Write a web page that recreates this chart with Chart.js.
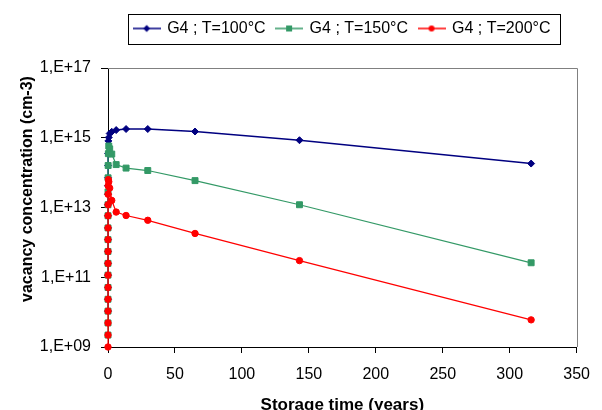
<!DOCTYPE html>
<html>
<head>
<meta charset="utf-8">
<script src="https://cdn.jsdelivr.net/npm/chart.js@4.4.0/dist/chart.umd.min.js"></script>
<style>
  html, body { margin: 0; padding: 0; background: #fff; }
  #wrap { width: 602px; height: 410px; }
</style>
</head>
<body>
<div id="wrap"><canvas id="vacChart" width="602" height="410"></canvas></div>
<script>
// storage time (years) of each computed point
const storageYears = [0.0000018, 0.000004, 0.0000088, 0.000019, 0.000042, 0.000093, 0.0002, 0.00045,
  0.001, 0.0022, 0.0048, 0.0105, 0.023, 0.051, 0.113, 0.26, 0.58, 1.27, 2.8, 6.1, 13.5, 29.7, 65, 143, 316];

// vacancy concentration (cm-3)
const vac100 = [1.07e10, 2.34e10, 5.1e10, 1.15e11, 2.5e11, 5.5e11, 1.2e12, 2.6e12, 5.8e12, 1.2e13, 2.4e13,
  4.2e13, 7.1e13, 1.6e14, 3.5e14, 8.1e14, 1.02e15, 1.32e15, 1.48e15, 1.66e15, 1.78e15, 1.78e15, 1.51e15, 8.5e14, 1.82e14];
const vac150 = [2.2e9, 4.9e9, 1.07e10, 2.34e10, 5.1e10, 1.15e11, 2.5e11, 5.5e11, 1.2e12, 2.6e12, 5.8e12,
  1.2e13, 2.8e13, 7.1e13, 1.6e14, 3.5e14, 5.8e14, 4.8e14, 3.4e14, 1.7e14, 1.35e14, 1.15e14, 5.9e13, 1.2e13, 2.6e11];
const vac200 = [1.0e9, 2.2e9, 4.9e9, 1.07e10, 2.34e10, 5.1e10, 1.15e11, 2.5e11, 5.5e11, 1.2e12, 2.6e12,
  5.8e12, 1.2e13, 2.4e13, 4.2e13, 6.3e13, 5.5e13, 3.6e13, 1.6e13, 7.4e12, 5.9e12, 4.3e12, 1.8e12, 3.0e11, 6.0e9];

const seriesLabels = ["G4 ; T=100°C", "G4 ; T=150°C", "G4 ; T=200°C"];
const xTicks = [0, 50, 100, 150, 200, 250, 300, 350];
const yTicks = [1e9, 1e11, 1e13, 1e15, 1e17];
const yTickLabels = ["1,E+09", "1,E+11", "1,E+13", "1,E+15", "1,E+17"];

const FONT = "'Liberation Sans', Arial, sans-serif";
Chart.defaults.font.family = FONT;
Chart.defaults.font.size = 16;
Chart.defaults.color = "#000";

function toPoints(ys) {
  return storageYears.map((t, i) => ({ x: t, y: ys[i] }));
}

// little line + marker pictures for the legend
function legendIcon(color, shape) {
  const c = document.createElement("canvas");
  c.width = 28; c.height = 12;
  const g = c.getContext("2d");
  g.strokeStyle = color; g.fillStyle = color; g.lineWidth = 1.5;
  g.beginPath(); g.moveTo(0, 6); g.lineTo(28, 6); g.stroke();
  g.beginPath();
  if (shape === "diamond") {
    g.moveTo(14, 2.5); g.lineTo(17.5, 6); g.lineTo(14, 9.5); g.lineTo(10.5, 6); g.closePath();
  } else if (shape === "square") {
    g.rect(11, 3, 6, 6);
  } else {
    g.arc(14, 6, 3, 0, Math.PI * 2);
  }
  g.fill();
  return c;
}
const legendIcons = [
  legendIcon("#000080", "diamond"),
  legendIcon("#339966", "square"),
  legendIcon("#ff0000", "circle")
];

const framePlugin = {
  id: "frame",
  beforeLayout(chart) {
    const lg = chart.legend;
    if (lg && !lg._padded) {
      const fit = lg.fit.bind(lg);
      lg.fit = function () { fit(); this.height += 21.5; };
      lg._padded = true;
    }
  },
  beforeDatasetsDraw(chart) {
    const { ctx, chartArea: a } = chart;
    ctx.save();
    ctx.strokeStyle = "#808080";
    ctx.lineWidth = 1;
    ctx.beginPath();
    ctx.moveTo(a.left, Math.round(a.top) + 0.5);
    ctx.lineTo(Math.round(a.right) + 0.5, Math.round(a.top) + 0.5);
    ctx.lineTo(Math.round(a.right) + 0.5, a.bottom);
    ctx.stroke();
    ctx.restore();
  },
  afterDraw(chart) {
    const { ctx, chartArea: a } = chart;
    ctx.save();
    // legend border
    const hb = chart.legend.legendHitBoxes;
    if (hb && hb.length) {
      const last = hb[hb.length - 1];
      const x0 = Math.round(hb[0].left - 6) + 0.5;
      const x1 = Math.round(last.left + last.width + 10) + 0.5;
      const yc = hb[0].top + hb[0].height / 2;
      const y0 = Math.round(yc - 15) + 0.5;
      ctx.strokeStyle = "#000";
      ctx.lineWidth = 1;
      ctx.strokeRect(x0, y0, x1 - x0, 30);
    }
    // axis titles
    ctx.fillStyle = "#000";
    ctx.textAlign = "center";
    ctx.font = "bold 17px " + FONT;
    ctx.textBaseline = "alphabetic";
    ctx.fillText("Storage time (years)", (a.left + a.right) / 2, 410);
    ctx.translate(28, 189);
    ctx.rotate(-Math.PI / 2);
    ctx.font = "bold 16px " + FONT;
    ctx.textBaseline = "middle";
    ctx.fillText("vacancy concentration (cm-3)", 0, 0);
    ctx.restore();
  }
};

new Chart(document.getElementById("vacChart").getContext("2d"), {
  type: "scatter",
  data: {
    datasets: [
      {
        label: seriesLabels[0],
        data: toPoints(vac100),
        showLine: true,
        borderColor: "#000080",
        backgroundColor: "#000080",
        borderWidth: 1.5,
        pointStyle: "rectRot",
        pointRadius: 3.5,
        pointBorderWidth: 1,
        clip: false,
        order: 3
      },
      {
        label: seriesLabels[1],
        data: toPoints(vac150),
        showLine: true,
        borderColor: "#339966",
        backgroundColor: "#339966",
        borderWidth: 1.25,
        pointStyle: "rect",
        pointRadius: 4.2,
        pointBorderWidth: 1,
        clip: false,
        order: 2
      },
      {
        label: seriesLabels[2],
        data: toPoints(vac200),
        showLine: true,
        borderColor: "#ff0000",
        backgroundColor: "#ff0000",
        borderWidth: 1.25,
        pointStyle: "circle",
        pointRadius: 3.2,
        pointBorderWidth: 1,
        clip: false,
        order: 1
      }
    ]
  },
  options: {
    responsive: false,
    animation: false,
    layout: { padding: { top: 9.5, right: 16, bottom: 0, left: 0 } },
    plugins: {
      tooltip: { enabled: false },
      legend: {
        position: "top",
        fullSize: false,
        labels: {
          usePointStyle: true,
          pointStyleWidth: 25,
          padding: 11,
          font: { size: 16 },
          color: "#000",
          generateLabels(chart) {
            return chart.data.datasets.map((ds, i) => ({
              text: ds.label,
              pointStyle: legendIcons[i],
              datasetIndex: i,
              fontColor: "#000",
              fillStyle: "transparent",
              strokeStyle: "transparent",
              lineWidth: 0,
              hidden: false
            }));
          }
        }
      }
    },
    scales: {
      x: {
        type: "linear",
        min: 0,
        max: 350,
        afterBuildTicks(scale) { scale.ticks = xTicks.map(v => ({ value: v })); },
        afterFit(scale) { scale.height = 63; },
        grid: { drawOnChartArea: false, drawTicks: true, tickLength: 6, color: "#000" },
        border: { color: "#000", width: 1 },
        ticks: { padding: 12, maxRotation: 0, font: { size: 16 }, callback: v => String(v) }
      },
      y: {
        type: "logarithmic",
        min: 1e9,
        max: 1e17,
        afterBuildTicks(scale) { scale.ticks = yTicks.map(v => ({ value: v })); },
        afterFit(scale) { scale.width = 108; },
        grid: { drawOnChartArea: false, drawTicks: true, tickLength: 7, color: "#000" },
        border: { color: "#000", width: 1 },
        ticks: { padding: 10, font: { size: 16 }, callback: (v, i) => yTickLabels[i] }
      }
    }
  },
  plugins: [framePlugin]
});
</script>
</body>
</html>
